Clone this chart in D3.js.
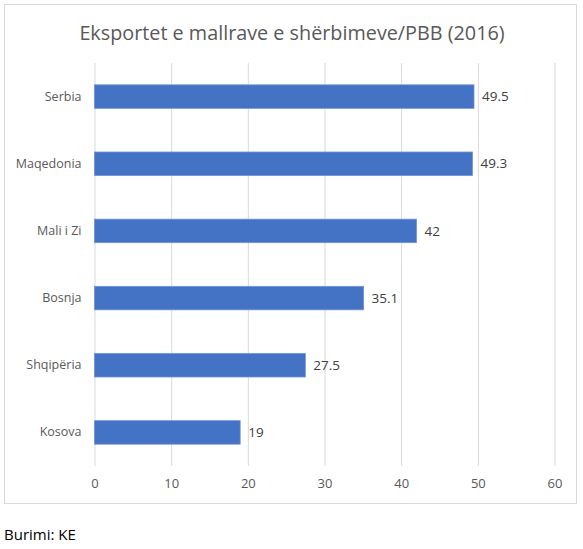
<!DOCTYPE html>
<html>
<head>
<meta charset="utf-8">
<script src="https://cdn.jsdelivr.net/npm/d3@7"></script>
<style>
  body { margin: 0; background: #fff; }
  svg text { font-family: "Open Sans", sans-serif; }
</style>
</head>
<body>
<svg width="583" height="549"></svg>
<script>
// chart data
var countries = ["Serbia", "Maqedonia", "Mali i Zi", "Bosnja", "Shqipëria", "Kosova"];
var values = [49.5, 49.3, 42, 35.1, 27.5, 19];
var xTicks = [0, 10, 20, 30, 40, 50, 60];
var title = "Eksportet e mallrave e shërbimeve/PBB (2016)";
var source = "Burimi: KE";

var svg = d3.select("svg"),
    margin = {top: 63, right: 28.5, bottom: 83, left: 94.5},
    width = svg.attr("width") - margin.left - margin.right,
    height = svg.attr("height") - margin.top - margin.bottom;

// outer frame of the chart
svg.append("rect")
    .attr("x", 4.5).attr("y", 4.5)
    .attr("width", 572).attr("height", 499)
    .attr("fill", "#fff")
    .attr("stroke", "#d9d9d9");

svg.append("text")
    .attr("x", 292).attr("y", 39.5)
    .attr("text-anchor", "middle")
    .attr("fill", "#595959")
    .style("font-size", "19.8px")
    .text(title);

var g = svg.append("g").attr("transform", "translate(" + margin.left + "," + margin.top + ")");

var x = d3.scaleLinear().domain([0, 60]).range([0, width]);
var y = d3.scaleBand().domain(countries).range([0, height]).paddingInner(0.65).paddingOuter(0.325);

// vertical gridlines
g.append("g")
    .attr("class", "grid")
    .call(d3.axisBottom(x).tickValues(xTicks).tickSize(height).tickFormat(""))
    .call(function(s) {
        s.select(".domain").remove();
        s.selectAll("line").attr("stroke", "#d9d9d9");
    });

// x axis labels
g.append("g")
    .attr("transform", "translate(0," + height + ")")
    .call(d3.axisBottom(x).tickValues(xTicks).tickSize(0).tickPadding(13))
    .call(function(s) {
        s.select(".domain").remove();
        s.selectAll("text").attr("fill", "#595959").style("font-size", "13px");
    });

// y axis labels
g.append("g")
    .call(d3.axisLeft(y).tickSize(0).tickPadding(13))
    .call(function(s) {
        s.select(".domain").remove();
        s.selectAll("text").attr("fill", "#595959").style("font-size", "12.5px");
    });

var data = countries.map(function(c, i) { return {name: c, value: values[i]}; });

g.selectAll(".bar")
    .data(data)
    .enter().append("rect")
    .attr("class", "bar")
    .attr("x", 0)
    .attr("y", function(d) { return y(d.name); })
    .attr("width", function(d) { return x(d.value); })
    .attr("height", y.bandwidth())
    .attr("fill", "#4472c4")
    .attr("stroke", "#6f93d3")
    .attr("stroke-width", 0.8);

// value labels
g.selectAll(".label")
    .data(data)
    .enter().append("text")
    .attr("class", "label")
    .attr("x", function(d) { return x(d.value) + 8; })
    .attr("y", function(d) { return y(d.name) + y.bandwidth() / 2; })
    .attr("dy", "0.35em")
    .attr("fill", "#404040")
    .style("font-size", "13.5px")
    .text(function(d) { return d.value; });

svg.append("text")
    .attr("x", 4).attr("y", 540)
    .attr("fill", "#000")
    .style("font-size", "15px")
    .text(source);
</script>
</body>
</html>
